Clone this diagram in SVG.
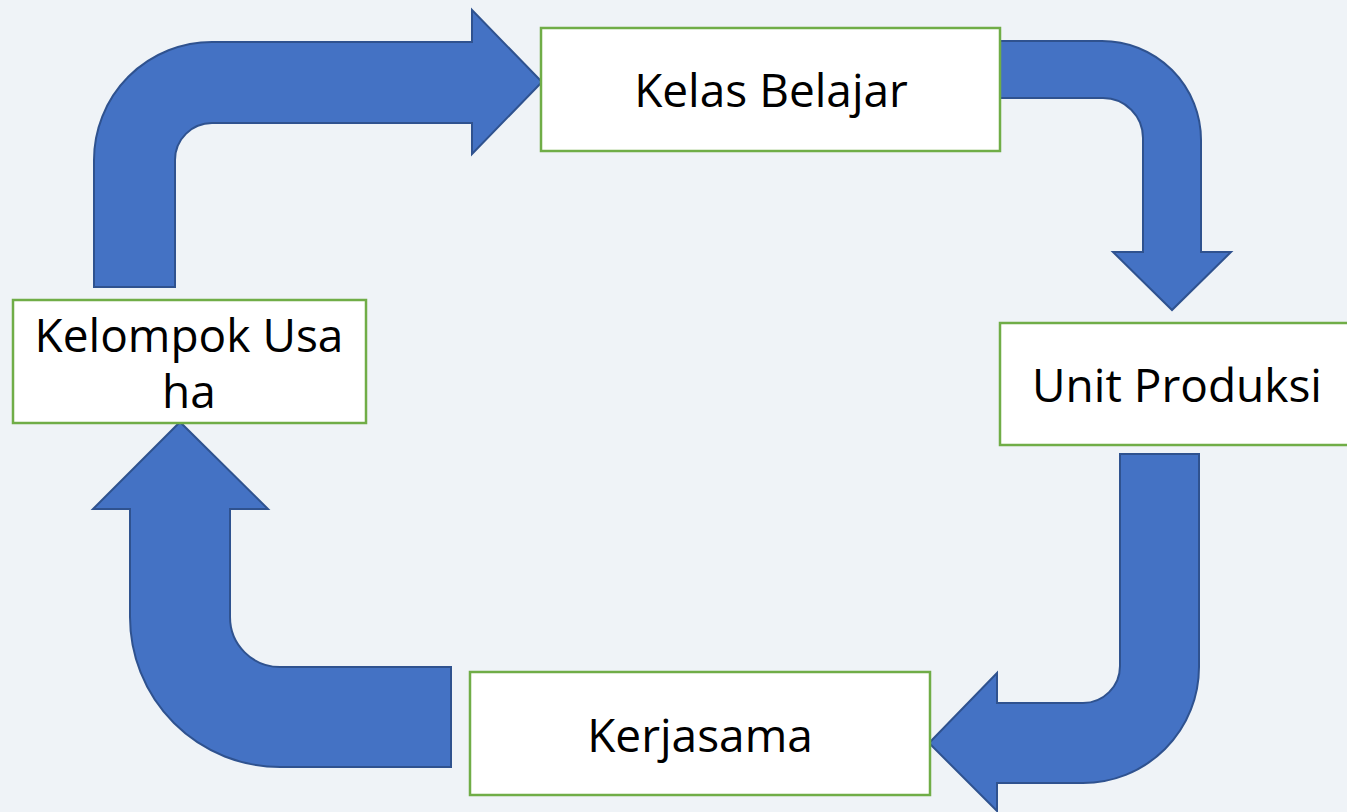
<svg xmlns="http://www.w3.org/2000/svg" width="1347" height="812" viewBox="0 0 1347 812">
<style>
.arrow{fill:#4472C4;stroke:#2F528F;stroke-width:2;stroke-linejoin:miter}
.box{fill:#FFFFFF;stroke:#70AD47;stroke-width:2.5}
.lbl{font-family:"Open Sans","Noto Sans","Liberation Sans",sans-serif;font-size:46px;fill:#000000;text-anchor:middle}
</style>
<rect x="0" y="0" width="1347" height="812" fill="#EFF3F7"/>
<g id="connectors">
<path class="arrow" d="M94,287 L94,160 A118,118 0 0 1 212,42 L472,42 L472,10 L542,82 L472,154 L472,123 L212,123 A37,37 0 0 0 175,160 L175,287 Z"/>
<path class="arrow" d="M1000,41 L1102,41 A99,99 0 0 1 1201,140 L1201,252 L1231,252 L1172,310 L1113,252 L1143,252 L1143,138 A40,40 0 0 0 1103,98 L1000,98 Z"/>
<path class="arrow" d="M1120,454 L1199,454 L1199,667 A116,116 0 0 1 1083,783 L997,783 L997,811 L929,743 L997,673 L997,703 L1083,703 A37,37 0 0 0 1120,666 Z"/>
<path class="arrow" d="M451,667 L451,767 L280,767 A150,150 0 0 1 130,617 L130,509 L93,509 L180,422 L268,509 L230,509 L230,617 A50,50 0 0 0 280,667 Z"/>
</g>
<g id="node-kelas-belajar">
<rect class="box" x="541" y="28" width="459" height="123"/>
<text class="lbl" x="771" y="107">Kelas Belajar</text>
</g>
<g id="node-unit-produksi">
<rect class="box" x="1000" y="323" width="360" height="122"/>
<text class="lbl" x="1177" y="402">Unit Produksi</text>
</g>
<g id="node-kerjasama">
<rect class="box" x="470" y="672" width="460" height="123"/>
<text class="lbl" x="700" y="752">Kerjasama</text>
</g>
<g id="node-kelompok-usaha">
<rect class="box" x="13" y="300" width="353" height="123"/>
<text class="lbl" x="189" y="352">Kelompok Usa</text>
<text class="lbl" x="189" y="408">ha</text>
</g>
</svg>
